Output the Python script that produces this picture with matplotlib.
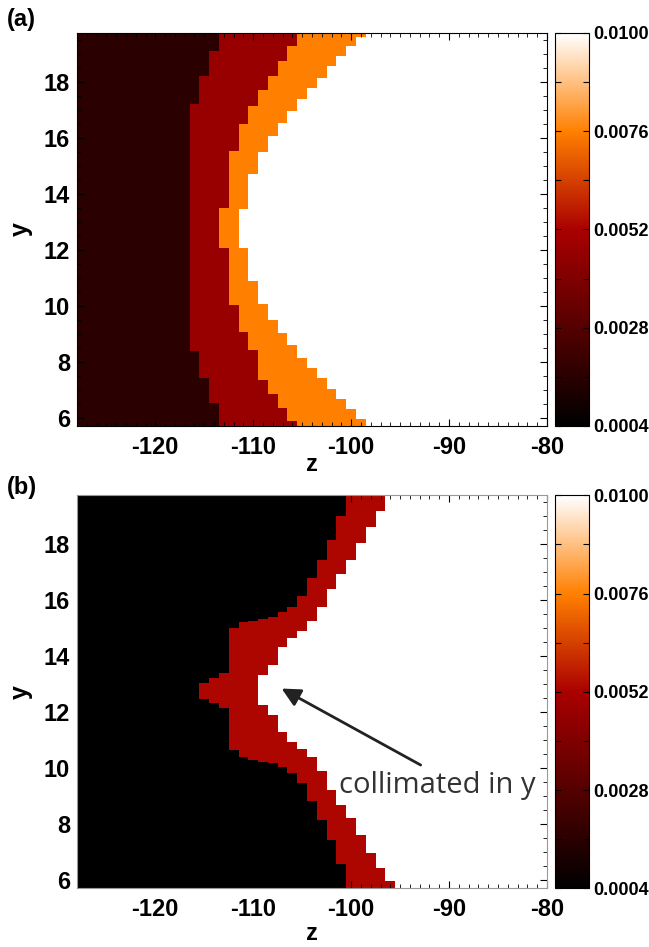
import numpy as np
import matplotlib
matplotlib.use("Agg")
import matplotlib.pyplot as plt
from matplotlib.colors import LinearSegmentedColormap, Normalize

plt.rcParams['font.family'] = ['Liberation Sans', 'DejaVu Sans']
plt.rcParams['font.weight'] = 'bold'
plt.rcParams['axes.unicode_minus'] = False

# grid of z cells (1 unit wide) and plotted y range
z_edges = np.arange(-128.5, -79.0, 1.0)
y_lo, y_hi = 5.70, 19.75

# panel (a): step boundaries, lower y of each segment -> z where next level starts
a_levels = [0.0016, 0.0047, 0.0076, 0.0100]
a_b1_y = [5.70, 6.53, 7.43, 8.38, 17.21, 18.20, 19.09]
a_b1_z = [-113.5, -114.5, -115.5, -116.5, -115.5, -114.5, -113.5]
a_b2_y = [5.70, 5.88, 6.35, 6.85, 7.36, 8.44, 9.09, 10.04, 12.07, 13.51,
          15.55, 16.51, 17.14, 17.73, 18.21, 18.75, 19.28]
a_b2_z = [-105.5, -106.5, -107.5, -108.5, -109.5, -110.5, -111.5, -112.5, -113.5,
          -112.5, -111.5, -110.5, -109.5, -108.5, -107.5, -106.5, -105.5]
a_b3_y = [5.70, 5.96, 6.32, 6.68, 7.03, 7.43, 7.78, 8.16, 8.61, 9.03, 9.51, 10.08,
          10.88, 12.07, 13.45, 14.70, 15.51, 16.07, 16.54, 16.96, 17.41, 17.79,
          18.15, 18.57, 18.93, 19.28, 19.60]
a_b3_z = [-98.5, -99.5, -100.5, -101.5, -102.5, -103.5, -104.5, -105.5, -106.5,
          -107.5, -108.5, -109.5, -110.5, -111.5, -110.5, -109.5, -108.5, -107.5,
          -106.5, -105.5, -104.5, -103.5, -102.5, -101.5, -100.5, -99.5, -98.5]

# panel (b)
b_levels = [0.0004, 0.0053, 0.0100]
b_b1_y = [5.70, 6.57, 7.46, 8.17, 8.82, 9.47, 9.83, 10.06, 10.21, 10.24, 10.30,
          10.42, 10.65, 12.14, 12.34, 12.49, 13.06, 13.23, 13.42, 15.00, 15.22,
          15.27, 15.33, 15.39, 15.57, 15.75, 16.14, 16.79, 17.44, 18.15, 19.01]
b_b1_z = [-100.5, -101.5, -102.5, -103.5, -104.5, -105.5, -106.5, -107.5, -108.5,
          -109.5, -110.5, -111.5, -112.5, -113.5, -114.5, -115.5, -114.5, -113.5,
          -112.5, -111.5, -110.5, -109.5, -108.5, -107.5, -106.5, -105.5, -104.5,
          -103.5, -102.5, -101.5, -100.5]
b_b2_y = [5.70, 5.98, 6.45, 6.98, 7.63, 8.23, 8.70, 9.23, 9.89, 10.42, 10.71,
          10.95, 11.31, 11.90, 12.25, 13.32, 13.68, 14.33, 14.65, 14.92, 15.27,
          15.75, 16.40, 16.93, 17.43, 18.04, 18.63, 19.18]
b_b2_z = [-95.5, -96.5, -97.5, -98.5, -99.5, -100.5, -101.5, -102.5, -103.5,
          -104.5, -105.5, -106.5, -107.5, -108.5, -109.5, -108.5, -107.5, -106.5,
          -105.5, -104.5, -103.5, -102.5, -101.5, -100.5, -99.5, -98.5, -97.5, -96.5]

cbar_ticks = [0.0004, 0.0028, 0.0052, 0.0076, 0.0100]
cbar_minor = [0.0016, 0.0040, 0.0064, 0.0088]

# red temperature colour table
cmap = LinearSegmentedColormap('redtemp', {
    'red': [(0, 0, 0), (0.75, 1, 1), (1, 1, 1)],
    'green': [(0, 0, 0), (0.5, 0, 0), (1, 1, 1)],
    'blue': [(0, 0, 0), (0.75, 0, 0), (1, 1, 1)],
})
norm = Normalize(vmin=0.0004, vmax=0.0100)


def build_grid(bounds, levels):
    y_edges = np.unique(np.concatenate([np.asarray(b[0]) for b in bounds] + [[y_lo, y_hi]]))
    y_mid = (y_edges[:-1] + y_edges[1:]) / 2
    z_mid = (z_edges[:-1] + z_edges[1:]) / 2
    C = np.full((len(y_mid), len(z_mid)), levels[0])
    for (yb, zb), lev in zip(bounds, levels[1:]):
        idx = np.searchsorted(yb, y_mid, side='right') - 1
        edge = np.asarray(zb)[idx]
        C[z_mid[None, :] > edge[:, None]] = lev
    return y_edges, C


fig = plt.figure(figsize=(6.49, 9.47), dpi=100)
panels = [
    ([(a_b1_y, a_b1_z), (a_b2_y, a_b2_z), (a_b3_y, a_b3_z)], a_levels, 0.5502, 'black', -0.114),
    ([(b_b1_y, b_b1_z), (b_b2_y, b_b2_z)], b_levels, 0.0620, '#999999', -0.132),
]
axes = []
for bounds, levels, bottom, spine_col, zlab_y in panels:
    ax = fig.add_axes([0.1186, bottom, 0.7242, 0.415])
    cax = fig.add_axes([0.8552, bottom, 0.0529, 0.415])
    y_edges, C = build_grid(bounds, levels)
    mesh = ax.pcolormesh(z_edges, y_edges, C, cmap=cmap, norm=norm, shading='flat')
    ax.set_xlim(-128, -80)
    ax.set_ylim(5.72, 19.75)
    ax.set_xticks([-120, -110, -100, -90, -80])
    ax.set_yticks([6, 8, 10, 12, 14, 16, 18])
    ax.set_xticks(np.arange(-127, -79, 1), minor=True)
    ax.set_yticks(np.arange(6, 19.8, 0.5), minor=True)
    ax.tick_params(which='both', direction='in', top=True, right=True, labelsize=17)
    ax.tick_params(which='major', length=5, width=0.8)
    ax.tick_params(which='minor', length=3, width=0.6)
    ax.tick_params(axis='x', pad=7)
    ax.tick_params(axis='y', pad=5)
    for s in ax.spines.values():
        s.set_color(spine_col)
        s.set_linewidth(0.8)
    ax.set_xlabel('z', fontsize=17, fontweight='bold', va='baseline')
    ax.set_ylabel('y', fontsize=18, fontweight='bold')
    ax.xaxis.set_label_coords(0.5, zlab_y)
    ax.yaxis.set_label_coords(-0.094, 0.5)

    cb = fig.colorbar(mesh, cax=cax, ticks=cbar_ticks, format='%.4f')
    cb.ax.yaxis.set_ticks(cbar_minor, minor=True)
    cb.ax.tick_params(which='both', direction='in', left=True, right=True,
                      labelsize=13, length=4, width=0.8, pad=3)
    cb.outline.set_linewidth(0.8)
    axes.append(ax)

fig.text(7 / 649, 1 - 8 / 947, '(a)', fontsize=17, fontweight='bold', va='top')
fig.text(7 / 649, 1 - 476 / 947, '(b)', fontsize=17, fontweight='bold', va='top')

ax_b = axes[1]
ax_b.annotate('', xy=(-107.1, 12.85), xytext=(-92.9, 10.12),
              arrowprops=dict(arrowstyle='-|>', color='#222222', lw=2,
                              mutation_scale=28, shrinkA=0, shrinkB=0))
ax_b.text(-101.2, 9.12, 'collimated in y', fontsize=21, fontweight='normal',
          family=['Open Sans', 'DejaVu Sans'], color='#333333', va='baseline')

fig.savefig('out.png', dpi=100)
